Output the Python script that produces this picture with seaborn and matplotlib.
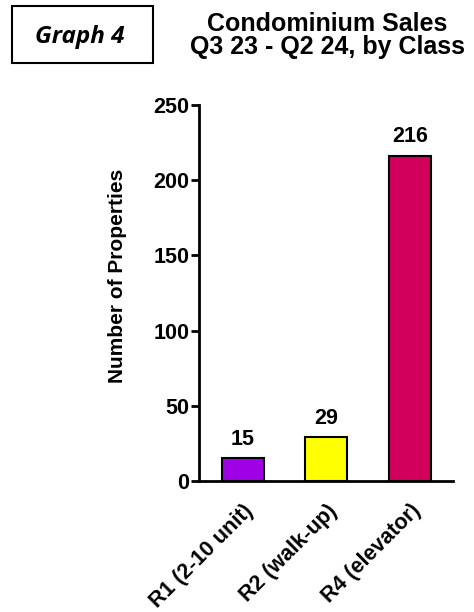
import matplotlib
matplotlib.use("Agg")
import matplotlib.pyplot as plt
from matplotlib.patches import Rectangle
import seaborn as sns
import pandas as pd

# Condominium sales by building class
classes = ["R1 (2-10 unit)", "R2 (walk-up)", "R4 (elevator)"]
sales = [15, 29, 216]
bar_colors = ["#A000E6", "#FFFF00", "#D1005C"]
y_ticks = [0, 50, 100, 150, 200, 250]

sns.set_theme(style="white")
plt.rcParams["font.family"] = ["Liberation Sans", "DejaVu Sans"]
plt.rcParams["text.color"] = "black"
plt.rcParams["axes.labelcolor"] = "black"
plt.rcParams["xtick.color"] = "black"
plt.rcParams["ytick.color"] = "black"

df = pd.DataFrame({"Class": classes, "Sales": sales})

fig = plt.figure(figsize=(4.74, 6.12), dpi=100)
ax = fig.add_axes([0.4198, 0.214, 0.5359, 0.6146])

sns.barplot(data=df, x="Class", y="Sales", hue="Class", palette=bar_colors,
            saturation=1, width=0.5, edgecolor="black", linewidth=1.5,
            legend=False, ax=ax)

for i, v in enumerate(sales):
    ax.annotate(str(v), (i, v), xytext=(0, 10), textcoords="offset points",
                ha="center", va="baseline", fontsize=15.5, fontweight="bold",
                color="black")

ax.set_xlim(-0.52, 2.51)
ax.set_ylim(0, 250)
ax.set_yticks(y_ticks)
ax.set_yticklabels([str(t) for t in y_ticks], fontsize=15.5, fontweight="bold")
ax.set_xticks(range(len(classes)))
ax.set_xticklabels(classes, rotation=45, ha="right", rotation_mode="anchor",
                   fontsize=15.5, fontweight="bold")
ax.tick_params(axis="y", which="both", left=True, length=6, width=2,
               direction="out", pad=1, color="black")
ax.tick_params(axis="x", bottom=False, length=0, pad=14)

ax.set_xlabel("")
ax.set_ylabel("Number of Properties", fontsize=15, fontweight="bold")
ax.yaxis.set_label_coords(-0.285, 0.545)

for side in ["top", "right"]:
    ax.spines[side].set_visible(False)
for side in ["left", "bottom"]:
    ax.spines[side].set_linewidth(2)
    ax.spines[side].set_color("black")

# Title
fig.text(0.69, 1 - 24 / 612, "Condominium Sales", ha="center", va="center",
         fontsize=18, fontweight="bold")
fig.text(0.69, 1 - 47 / 612, "Q3 23 - Q2 24, by Class", ha="center", va="center",
         fontsize=18, fontweight="bold")

# Boxed graph label
fig.patches.append(Rectangle((12 / 474, 1 - 63 / 612), 141 / 474, 57 / 612,
                             transform=fig.transFigure, fill=False,
                             edgecolor="black", linewidth=1.5))
fig.text(80 / 474, 1 - 37 / 612, "Graph 4", ha="center", va="center",
         fontsize=17.5, fontweight="bold", fontstyle="italic",
         family=["Open Sans", "DejaVu Sans"])

fig.savefig("out.png", dpi=100, facecolor="white")
